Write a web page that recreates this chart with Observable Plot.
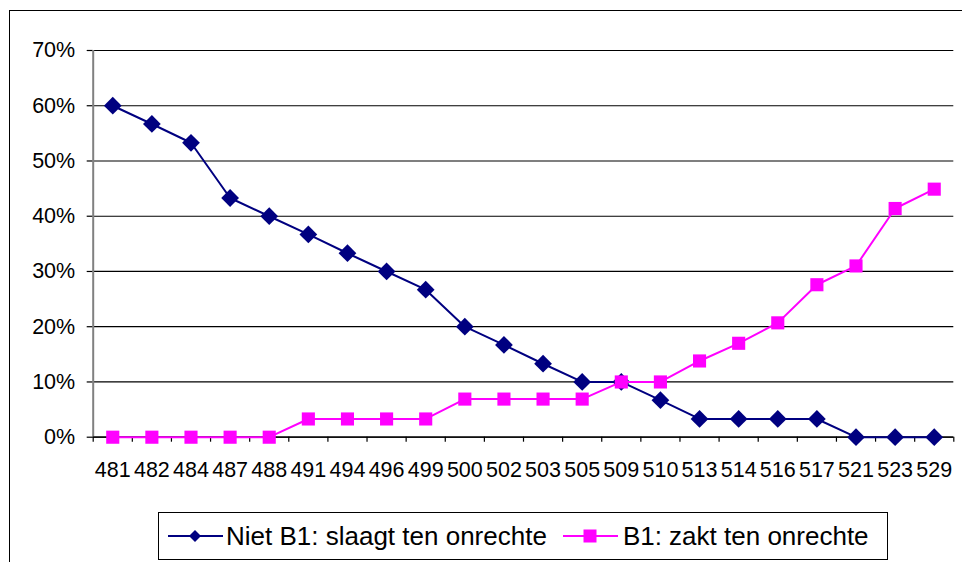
<!DOCTYPE html>
<html>
<head>
<meta charset="utf-8">
<script src="https://cdn.jsdelivr.net/npm/d3@7"></script>
<script src="https://cdn.jsdelivr.net/npm/@observablehq/plot@0.6"></script>
<style>
  body { margin: 0; background: #fff; font-family: Arial, "Liberation Sans", sans-serif; }
  #wrap { position: relative; width: 962px; height: 562px; overflow: hidden; background: #fff; }
  #frame { position: absolute; left: 9px; top: 10px; width: 1000px; height: 700px;
           border-left: 1.5px solid #000; border-top: 1.5px solid #000; pointer-events: none; }
  #chart { position: absolute; left: 0; top: 0; }
  #legend { position: absolute; left: 158px; top: 512px; width: 730px; height: 48px;
            border: 1.5px solid #000; box-sizing: border-box; display: flex; align-items: center;
            font-size: 26px; color: #000; white-space: nowrap; }
  #legend .item { display: flex; align-items: center; }
  #legend svg { display: block; }
</style>
</head>
<body>
<div id="wrap">
  <div id="chart"></div>
  <div id="frame"></div>
  <div id="legend"></div>
</div>
<script>
const categories = ["481","482","484","487","488","491","494","496","499","500","502","503","505","509","510","513","514","516","517","521","523","529"];
const nietB1 = [60, 56.7, 53.3, 43.3, 40, 36.7, 33.3, 30, 26.7, 20, 16.7, 13.3, 10, 10, 6.7, 3.3, 3.3, 3.3, 3.3, 0, 0, 0];
const b1 = [0, 0, 0, 0, 0, 3.3, 3.3, 3.3, 3.3, 6.9, 6.9, 6.9, 6.9, 10, 10, 13.8, 17, 20.7, 27.6, 31, 41.4, 44.9];
const seriesNames = ["Niet B1: slaagt ten onrechte", "B1: zakt ten onrechte"];
const seriesColors = ["#000080", "#FF00FF"];
const yTicks = [0, 10, 20, 30, 40, 50, 60, 70];

const rowsNiet = categories.map((c, i) => ({pos: i + 0.5, cat: c, v: nietB1[i], series: seriesNames[0]}));
const rowsB1 = categories.map((c, i) => ({pos: i + 0.5, cat: c, v: b1[i], series: seriesNames[1]}));

const chart = Plot.plot({
  width: 962,
  height: 505,
  marginLeft: 92.7,
  marginRight: 8.7,
  marginTop: 50,
  marginBottom: 68.3,
  x: {type: "linear", domain: [0, categories.length], label: null},
  y: {domain: [0, 70], label: null},
  color: {domain: seriesNames, range: seriesColors},
  style: {fontFamily: "Arial, 'Liberation Sans', sans-serif", fontSize: "21px", color: "#000", background: "transparent", overflow: "visible"},
  marks: [
    Plot.gridY(yTicks, {stroke: "#000", strokeOpacity: 1, strokeWidth: 1.2}),
    Plot.axisY(yTicks, {label: null, tickSize: 6, tickPadding: 12, tickFormat: d => d + "%", fontSize: 21.5, stroke: "#000", strokeWidth: 1.2}),
    Plot.ruleX([0], {stroke: "#808080", strokeWidth: 2}),
    Plot.ruleY([0], {stroke: "#000", strokeWidth: 1.2}),
    Plot.axisX(d3.range(categories.length + 1), {label: null, tickSize: 5, tickFormat: () => "", stroke: "#000", strokeWidth: 1.2}),
    Plot.axisX(categories.map((c, i) => i + 0.5), {label: null, tickSize: 0, tickPadding: 25, tickFormat: d => categories[Math.floor(d)], fontSize: 21.5}),
    Plot.line(rowsNiet, {x: "pos", y: "v", stroke: "series", strokeWidth: 2}),
    Plot.dot(rowsNiet, {x: "pos", y: "v", fill: "series", symbol: "diamond2", r: 8, stroke: "none"}),
    Plot.line(rowsB1, {x: "pos", y: "v", stroke: "series", strokeWidth: 2}),
    Plot.dot(rowsB1, {x: "pos", y: "v", fill: "series", symbol: "square", r: 7.4, stroke: "none"})
  ]
});
document.getElementById("chart").appendChild(chart);

// Legend (HTML below the plot)
const legend = document.getElementById("legend");
const symbols = [
  c => `<polygon points="27,3 33,9 27,15 21,9" fill="${c}"/>`,
  c => `<rect x="20.5" y="2.5" width="13" height="13" fill="${c}"/>`
];
const spacing = [{pad: 9, gap: 3}, {pad: 16, gap: 5}];
seriesNames.forEach((name, k) => {
  const item = document.createElement("div");
  item.className = "item";
  item.style.marginLeft = spacing[k].pad + "px";
  item.innerHTML = `<svg width="55" height="18" viewBox="0 0 55 18"><line x1="0" y1="9" x2="55" y2="9" stroke="${seriesColors[k]}" stroke-width="2"/>${symbols[k](seriesColors[k])}</svg><span style="margin-left:${spacing[k].gap}px">${name}</span>`;
  legend.appendChild(item);
});
</script>
</body>
</html>
